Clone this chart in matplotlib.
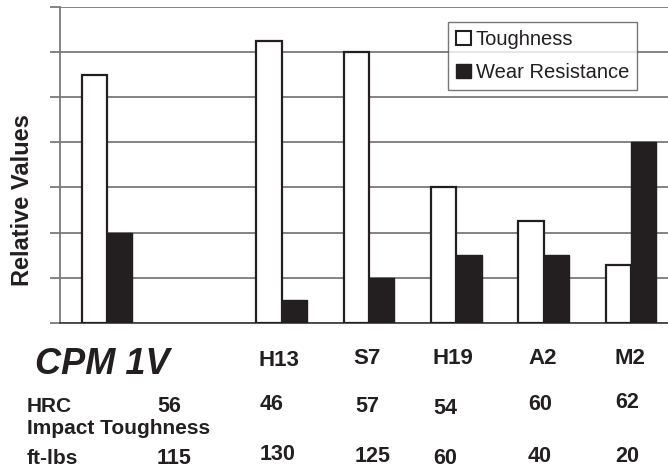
import numpy as np
import matplotlib.pyplot as plt
from matplotlib.patches import Patch

plt.rcParams['font.family'] = ['Liberation Sans', 'DejaVu Sans']

# data
grades = ['CPM 1V', 'H13', 'S7', 'H19', 'A2', 'M2']
slots = [0, 2, 3, 4, 5, 6]          # slot 1 is left empty in the original
toughness = [5.5, 6.25, 6.0, 3.0, 2.25, 1.27]
wear = [2.0, 0.5, 1.0, 1.5, 1.5, 4.0]
hrc = ['56', '46', '57', '54', '60', '62']
impact = ['115', '130', '125', '60', '40', '20']

ink = '#231f20'
grid_c = '#7a7a7a'

W, H = 668, 470
fig = plt.figure(figsize=(W / 100, H / 100), dpi=100)
ax = fig.add_axes([60 / W, 1 - 322.7 / H, (668 - 60) / W, (322.7 - 7) / H])

x = np.array(slots, dtype=float)
bw = 0.29
ax.bar(x - bw / 2, toughness, bw, color='white', edgecolor=ink, linewidth=1.6, zorder=3)
ax.bar(x + bw / 2, wear, bw, color=ink, edgecolor=ink, linewidth=1.0, zorder=3)

ax.set_xlim(-0.538, 6.424)
ax.set_ylim(0, 7)
ax.set_yticks(range(8))
ax.set_yticklabels([])
ax.set_xticks([])
ax.yaxis.grid(True, color=grid_c, linewidth=1.3, zorder=0)
ax.tick_params(axis='y', length=7, width=1.3, color=grid_c, direction='out')
for s in ['top', 'right']:
    ax.spines[s].set_visible(False)
ax.spines['left'].set_color(grid_c)
ax.spines['left'].set_linewidth(1.3)
ax.spines['bottom'].set_color('#444444')
ax.spines['bottom'].set_linewidth(1.3)

fig.text(23 / W, 1 - 200 / H, 'Relative Values', rotation=90, ha='center', va='center',
         fontsize=17, fontweight='bold', color=ink)

handles = [Patch(facecolor='white', edgecolor=ink, linewidth=1.5),
           Patch(facecolor=ink, edgecolor=ink)]
leg = fig.legend(handles, ['Toughness', 'Wear Resistance'], loc='upper right',
                 bbox_to_anchor=(637 / W, 1 - 22 / H), bbox_transform=fig.transFigure,
                 fontsize=14.5, frameon=True, fancybox=False, borderaxespad=0,
                 handlelength=0.7, handleheight=0.7, handletextpad=0.25,
                 labelspacing=0.7, borderpad=0.4)
leg.get_frame().set_edgecolor('#555555')
leg.get_frame().set_linewidth(1.0)
for t in leg.get_texts():
    t.set_color(ink)

# table under the chart (pixel positions from the reference)
name_x = [35, 258, 353, 433, 528, 615]
name_y = [364, 360, 359, 359, 359, 359]
hrc_y = [406, 404, 406, 408, 404, 403]
imp_y = [458, 454, 457, 459, 456, 456]
val_x = [157, 260, 355, 433, 528, 615]


def put(px, py, s, **kw):
    fig.text(px / W, 1 - py / H, s, ha='left', va='center', color=ink, **kw)


for i, g in enumerate(grades):
    if i == 0:
        put(name_x[i], name_y[i], g, fontsize=26, fontweight='bold', fontstyle='italic')
    else:
        put(name_x[i], name_y[i], g, fontsize=16, fontweight='bold')
    put(val_x[i], hrc_y[i], hrc[i], fontsize=15.5, fontweight='bold')
    put(val_x[i], imp_y[i], impact[i], fontsize=15.5, fontweight='bold')

put(27, 406, 'HRC', fontsize=15, fontweight='bold')
put(27, 428, 'Impact Toughness', fontsize=15, fontweight='bold')
put(27, 458, 'ft-lbs', fontsize=15, fontweight='bold')

fig.savefig('out.png', dpi=100)
